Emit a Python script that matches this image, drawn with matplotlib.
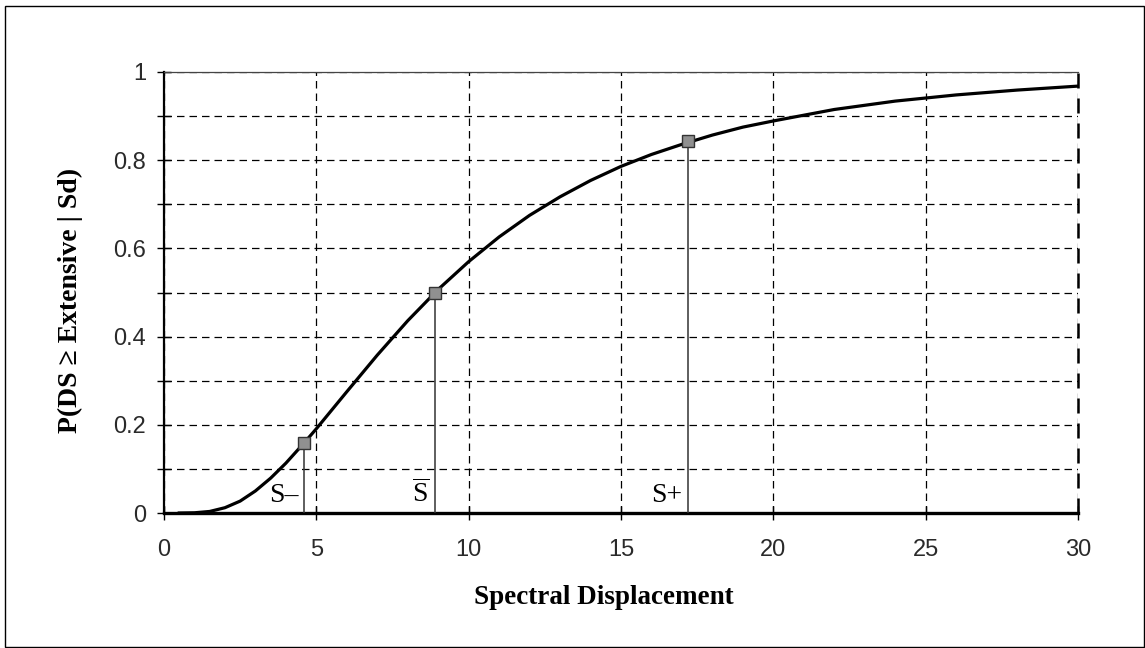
import matplotlib.pyplot as plt
from matplotlib.patches import Rectangle

# fragility curve
sd = [0.5, 1, 1.5, 2, 2.5, 3, 3.5, 4, 4.6, 5, 6, 7, 8, 9, 10, 11, 12, 13, 14,
      15, 16, 17, 18, 19, 20, 22, 24, 26, 28, 30]
prob = [0.0, 0.0005, 0.0035, 0.012, 0.027, 0.050, 0.079, 0.113, 0.159, 0.191,
        0.275, 0.358, 0.436, 0.507, 0.570, 0.626, 0.675, 0.717, 0.754, 0.786,
        0.813, 0.836, 0.857, 0.875, 0.889, 0.915, 0.934, 0.948, 0.959, 0.968]

# marked points S-, S(median), S+
pt_x = [4.6, 8.9, 17.2]
pt_y = [0.159, 0.5, 0.843]
pt_labels = ["S\u2013", r"$\overline{\mathrm{S}}$", "S+"]

plt.rcParams['mathtext.fontset'] = 'custom'
plt.rcParams['mathtext.rm'] = 'Liberation Serif'

W, H = 1145, 648
fig = plt.figure(figsize=(W / 100, H / 100), dpi=100)
fig.patches.append(Rectangle((5 / W, 1.5 / H), 1138.5 / W, 641 / H,
                             transform=fig.transFigure, fill=False,
                             edgecolor='black', linewidth=1))
ax = fig.add_axes([164 / W, 1 - 513 / H, 914 / W, 441 / H])

ax.plot(sd, prob, color='black', linewidth=2.3, zorder=4)
for x, y, lab in zip(pt_x, pt_y, pt_labels):
    ax.plot([x, x], [0, y], color='#333333', linewidth=1.1, zorder=3)
    ax.plot(x, y, marker='s', markersize=8, markerfacecolor='#909090',
            markeredgecolor='#333333', markeredgewidth=1, zorder=5)
    ax.text(x - 0.18, 0.025, lab, ha='right', va='baseline',
            family='Liberation Serif', fontsize=20)

ax.set_xlim(0, 30)
ax.set_ylim(0, 1)
ax.set_xticks(range(0, 31, 5))
ax.set_yticks([0, 0.2, 0.4, 0.6, 0.8, 1])
ax.set_yticklabels(["0", "0.2", "0.4", "0.6", "0.8", "1"])
ax.set_yticks([0.1, 0.3, 0.5, 0.7, 0.9], minor=True)
ax.grid(True, which='both', color='black', linestyle=(0, (6, 4)), linewidth=0.9)
# right edge of the plot area is a dashed gridline too
ax.axvline(30, color='black', linestyle=(0, (6, 4)), linewidth=1.8, clip_on=False)
ax.tick_params(which='both', direction='inout', length=10, width=1, colors='black',
               labelsize=17, labelcolor='#2a2a2a')
ax.tick_params(axis='x', pad=14)
ax.tick_params(axis='y', pad=8)
for lbl in ax.get_xticklabels() + ax.get_yticklabels():
    lbl.set_family('Liberation Sans')

ax.spines['left'].set_linewidth(1.6)
ax.spines['bottom'].set_linewidth(2.4)
ax.spines['top'].set_linewidth(0.9)
ax.spines['top'].set_color('#444444')
ax.spines['right'].set_visible(False)

fig.text(604 / W, 1 - 597 / H, "Spectral Displacement", ha='center', va='center',
         family='Liberation Serif', fontweight='bold', fontsize=19.5)
fig.text(70 / W, 1 - 300 / H, "P(DS \u2265 Extensive | Sd)", ha='center',
         va='center', rotation=90, family='Liberation Serif',
         fontweight='bold', fontsize=20)

fig.savefig("out.png", dpi=100)
